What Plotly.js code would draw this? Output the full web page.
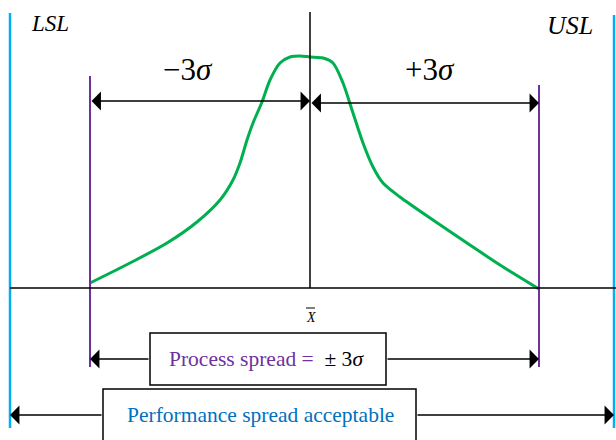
<!DOCTYPE html>
<html>
<head>
<meta charset="utf-8">
<script src="https://cdn.plot.ly/plotly-3.0.1.min.js"></script>
<style>
  html, body { margin: 0; padding: 0; background: #fff; }
  #chart { width: 616px; height: 440px; }
</style>
</head>
<body>
<div id="chart"></div>
<script>
// process curve, x measured from the mean, y = height above the baseline
const curveX = [-220, -180, -143, -113, -90, -77, -70, -63, -57, -48, -40, -30, -20, -10, 0,
                13, 23, 33, 43, 53, 63, 73, 90, 123, 157, 190, 229];
const curveY = [5, 25, 45, 66, 88, 108, 125, 148, 165, 186, 208, 225, 231, 232, 231,
                230, 225, 205, 175, 145, 121, 105, 91, 68, 45, 23, -1];

const meanX = 0;
const specLimits = [-300, 304];     // LSL, USL
const sigmaLimits = [-220, 229];    // -3 sigma, +3 sigma

const blue = '#00b0f0';
const purple = '#7030a0';
const green = '#00b050';
const serif = '"Liberation Serif", serif';

const traces = [{
    x: curveX,
    y: curveY,
    type: 'scatter',
    mode: 'lines',
    line: { color: green, width: 3, shape: 'spline', smoothing: 0.8 },
    hoverinfo: 'skip'
}];

const vline = (x, y0, y1, color, width) => ({
    type: 'line', xref: 'x', yref: 'y', x0: x, x1: x, y0: y0, y1: y1,
    line: { color: color, width: width }
});

const box = (x0, x1, y0, y1) => ({
    type: 'rect', xref: 'x', yref: 'y', x0: x0, x1: x1, y0: y0, y1: y1,
    line: { color: '#000', width: 1.5 }, fillcolor: '#fff'
});

const shapes = [
    vline(specLimits[0], -140, 275, blue, 2.5),
    vline(specLimits[1], -140, 273, blue, 2.5),
    vline(sigmaLimits[0], -79, 212, purple, 2),
    vline(sigmaLimits[1], -79, 203, purple, 2),
    vline(meanX, 0, 276, '#000', 1.5),
    { type: 'line', xref: 'x', yref: 'y', x0: specLimits[0], x1: 306, y0: 0, y1: 0,
      line: { color: '#000', width: 1.5 } },
    // bar over the X of x-bar
    { type: 'line', xref: 'x', yref: 'y', x0: meanX - 4, x1: meanX + 5, y0: -20, y1: -20,
      line: { color: '#000', width: 1 } },
    box(-160, 76, -45, -97),
    box(-207, 106, -101, -170)
];

const arrow = (x, y, ax, ay, both) => ({
    x: x, y: y, ax: ax, ay: ay, xref: 'x', yref: 'y', axref: 'x', ayref: 'y',
    text: '', showarrow: true, arrowhead: 1, startarrowhead: 1,
    arrowsize: 2.1, startarrowsize: 2.1, arrowwidth: 1.5,
    arrowcolor: '#000', arrowside: both ? 'end+start' : 'end',
    standoff: 0, startstandoff: 0
});

const label = (x, y, text, size, color) => ({
    x: x, y: y, xref: 'x', yref: 'y', text: text, showarrow: false,
    font: { family: serif, size: size, color: color || '#000' }
});

const annotations = [
    arrow(meanX, 187, sigmaLimits[0], 187, true),
    arrow(sigmaLimits[1], 185, meanX, 185, true),
    arrow(sigmaLimits[0], -71, -160, -71),
    arrow(sigmaLimits[1], -71, 76, -71),
    arrow(specLimits[0], -127, -207, -127),
    arrow(specLimits[1], -127, 106, -127),
    label(-260, 265, '<i>LSL</i>', 23),
    label(260, 263, '<i>USL</i>', 26),
    label(-122, 219, '\u22123<i>\u03c3</i>', 31),
    label(120, 219, '+3<i>\u03c3</i>', 31),
    label(meanX + 1, -29, '<i>X</i>', 14),
    label(-44, -71, '<span style="color:' + purple + '">Process spread =</span>  \u00b1 3<i>\u03c3</i>', 21.5),
    label(-50, -127, 'Performance spread acceptable', 21.5, '#0070c0')
];

const layout = {
    width: 616,
    height: 440,
    margin: { l: 0, r: 0, t: 0, b: 0 },
    paper_bgcolor: '#fff',
    plot_bgcolor: '#fff',
    showlegend: false,
    xaxis: { range: [-310, 306], visible: false, fixedrange: true },
    yaxis: { range: [-152, 288], visible: false, fixedrange: true },
    shapes: shapes,
    annotations: annotations
};

Plotly.newPlot('chart', traces, layout, { displayModeBar: false, staticPlot: true });
</script>
</body>
</html>
